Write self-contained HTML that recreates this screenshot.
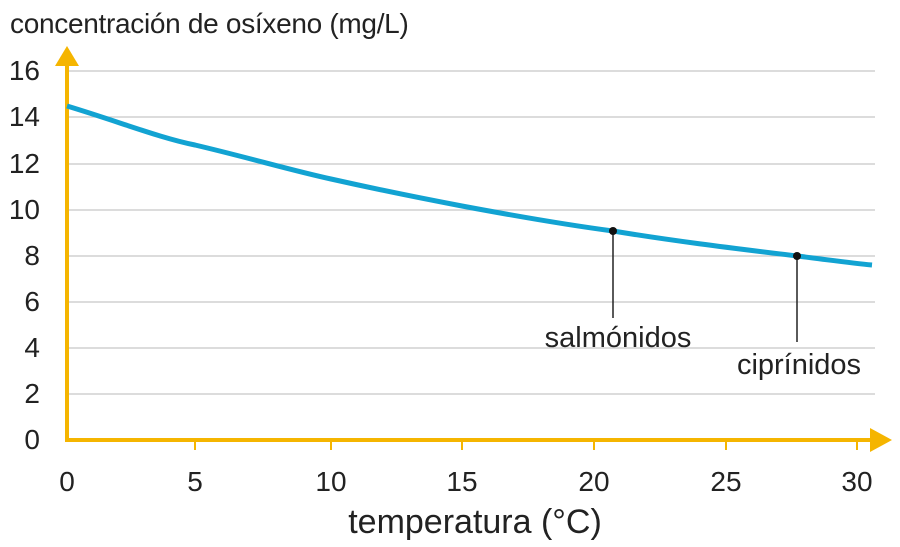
<!DOCTYPE html>
<html><head><meta charset="utf-8"><style>
body{margin:0;background:#fff;}
svg{display:block;font-family:"Liberation Sans",sans-serif;}
</style></head><body>
<svg width="900" height="547" viewBox="0 0 900 547" xmlns="http://www.w3.org/2000/svg">
<g stroke="#c8c8c8" stroke-width="1.3">
<line x1="67" x2="875" y1="71" y2="71"/>
<line x1="67" x2="875" y1="117" y2="117"/>
<line x1="67" x2="875" y1="164" y2="164"/>
<line x1="67" x2="875" y1="210" y2="210"/>
<line x1="67" x2="875" y1="256" y2="256"/>
<line x1="67" x2="875" y1="302" y2="302"/>
<line x1="67" x2="875" y1="348" y2="348"/>
<line x1="67" x2="875" y1="394" y2="394"/>
</g>
<g stroke="#f5b500" stroke-width="4" fill="#f5b500">
<line x1="67" y1="440" x2="67" y2="62"/>
<polygon points="55,66 79,66 67,46" stroke="none"/>
<line x1="65" y1="440" x2="874" y2="440"/>
<polygon points="870,428 870,452 892,440" stroke="none"/>
<line x1="195" y1="440" x2="195" y2="450" stroke-width="2"/>
<line x1="331" y1="440" x2="331" y2="450" stroke-width="2"/>
<line x1="462" y1="440" x2="462" y2="450" stroke-width="2"/>
<line x1="594" y1="440" x2="594" y2="450" stroke-width="2"/>
<line x1="726" y1="440" x2="726" y2="450" stroke-width="2"/>
<line x1="857" y1="440" x2="857" y2="450" stroke-width="2"/>
</g>
<path d="M67,106 C120,122 160,138 195,145 C250,158 290,170 331,179 C380,190 420,198 462,206 C510,215 560,224 613,231 C680,242 740,249 797,256 C830,260 850,263 872,265" fill="none" stroke="#12a3d2" stroke-width="5"/>
<g stroke="#222" stroke-width="1.5"><line x1="613" y1="231" x2="613" y2="318"/><line x1="797" y1="256" x2="797" y2="342"/></g>
<circle cx="613" cy="231" r="4" fill="#111"/><circle cx="797" cy="256" r="4" fill="#111"/>
<g font-size="28" fill="#222" text-anchor="end">
<text x="40" y="80">16</text><text x="40" y="126">14</text><text x="40" y="173">12</text>
<text x="40" y="219">10</text><text x="40" y="265">8</text><text x="40" y="311">6</text>
<text x="40" y="357">4</text><text x="40" y="403">2</text><text x="40" y="449">0</text>
</g>
<g font-size="28" fill="#222" text-anchor="middle">
<text x="67" y="491">0</text><text x="195" y="491">5</text><text x="331" y="491">10</text>
<text x="462" y="491">15</text><text x="594" y="491">20</text><text x="726" y="491">25</text>
<text x="857" y="491">30</text>
<text x="475" y="533" font-size="34">temperatura (°C)</text>
<text x="618" y="347" font-size="29">salmónidos</text>
<text x="799" y="374" font-size="29">ciprínidos</text>
</g>
<text x="10" y="33" font-size="28" fill="#222" letter-spacing="-0.3">concentración de osíxeno (mg/L)</text>
</svg>
</body></html>
